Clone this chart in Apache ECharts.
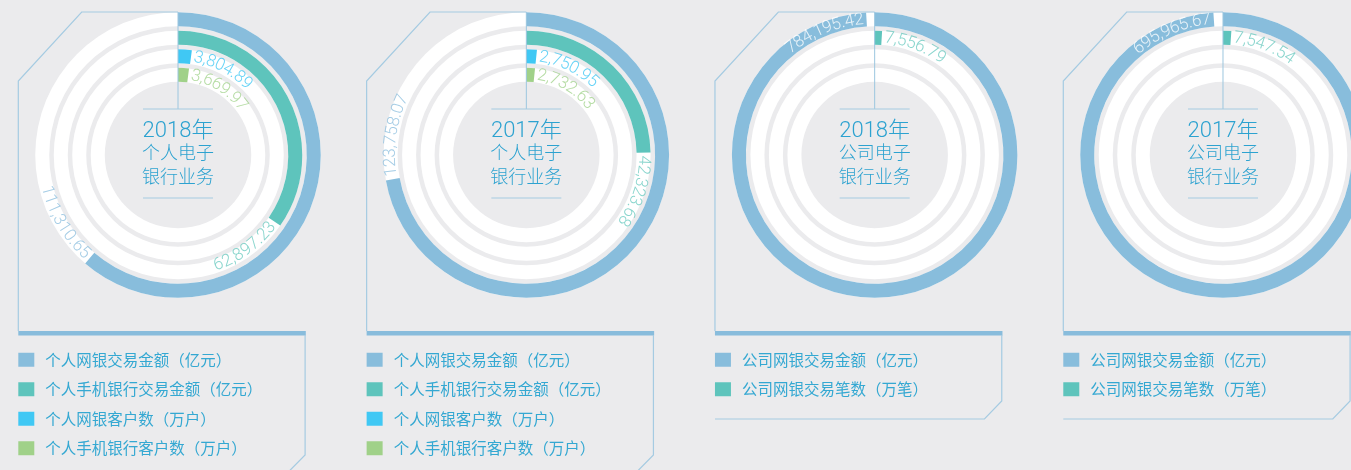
<!DOCTYPE html>
<html><head><meta charset="utf-8">
<script src="https://cdn.jsdelivr.net/npm/echarts@6/dist/echarts.min.js"></script>
<style>html,body{margin:0;padding:0;background:#EBEBED}#c{width:1351px;height:470px}</style>
</head><body><div id="c"></div>
<script>
// ---------- data ----------
const years = ['2018年', '2017年', '2018年', '2017年'];
const titles = ['个人电子', '个人电子', '公司电子', '公司电子'];
const subtitle = '银行业务';
const personalNames = ['个人网银交易金额（亿元）', '个人手机银行交易金额（亿元）', '个人网银客户数（万户）', '个人手机银行客户数（万户）'];
const corporateNames = ['公司网银交易金额（亿元）', '公司网银交易笔数（万笔）'];
const personal2018 = [111310.65, 62897.23, 3804.89, 3669.97];
const personal2017 = [123758.07, 42323.68, 2750.95, 2732.63];
const corporate2018 = [784195.42, 7556.79];
const corporate2017 = [695965.67, 7547.54];

// ---------- styles / layout ----------
const BG = '#EBEBED';
const barColors = ['#88BDDC', '#5EC4BC', '#40C8F4', '#A0D189'];
const labelColors = ['#8DBFDF', '#6CCAC1', '#40C8F4', '#A3D38D'];
const textBlue = '#2CA2D0';
const legendBlue = '#34A8D2';
const frameColor = '#A5CBE2';
const thickColor = '#88BCDC';
const panelStep = 348.33;
const frameLeft0 = 18.3;
const centerOffset = 159.7;
const CY = 155, R0 = 71, R1 = 145, RINGS = 4, BAR_W = 14;
const BAND = (R1 - R0) / RINGS;
const LABEL_FONT = 'Roboto, "Liberation Sans", sans-serif';
const LABEL_SIZE = 17;

const panels = [
  { values: personal2018, names: personalNames },
  { values: personal2017, names: personalNames },
  { values: corporate2018, names: corporateNames },
  { values: corporate2017, names: corporateNames }
];

const ctx = document.createElement('canvas').getContext('2d');
ctx.font = '300 ' + LABEL_SIZE + 'px ' + LABEL_FONT;
function fmt(v) { return v.toLocaleString('en-US', { minimumFractionDigits: 2, maximumFractionDigits: 2 }); }

const polar = [], angleAxis = [], radiusAxis = [], series = [], legend = [], graphic = [];

panels.forEach((p, i) => {
  const L = frameLeft0 + i * panelStep;
  const cx = L + centerOffset;
  const total = p.values.reduce((a, b) => a + b, 0);
  polar.push({ center: [cx, CY], radius: [R0, R1] });
  angleAxis.push({ polarIndex: i, type: 'value', min: 0, max: total, startAngle: 90, clockwise: true, show: false });
  radiusAxis.push({ polarIndex: i, type: 'category', data: ['r4', 'r3', 'r2', 'r1'], show: false });

  p.values.forEach((v, k) => {
    const cat = RINGS - 1 - k;
    const data = ['-', '-', '-', '-'];
    data[cat] = v;
    series.push({
      type: 'bar', name: p.names[k], coordinateSystem: 'polar', polarIndex: i,
      stack: 'panel' + i,
      data: data, barWidth: BAR_W, silent: true,
      itemStyle: { color: barColors[k] },
      showBackground: k === 0, backgroundStyle: { color: '#FFFFFF' }
    });
  });

  // value labels, laid out character by character along the ring
  const pts = [];
  p.values.forEach((v, k) => {
    const cat = RINGS - 1 - k;
    const rMid = R0 + (cat + 0.5) * BAND;
    const endDeg = v / total * 360;
    const mode = endDeg > 330 ? 'inside' : (endDeg > 90 && endDeg < 250 ? 'flip' : 'normal');
    const chars = fmt(v).split('');
    const w = chars.map(c => ctx.measureText(c).width);
    const gap = 3;
    const color = mode === 'inside' ? '#FFFFFF' : labelColors[k];
    chars.forEach((ch, j) => {
      let s;
      if (mode === 'normal') {
        s = gap + w.slice(0, j).reduce((a, b) => a + b, 0) + w[j] / 2;
      } else {
        s = gap + w.slice(j + 1).reduce((a, b) => a + b, 0) + w[j] / 2;
        if (mode === 'inside') s = -s;
      }
      const ang = endDeg + s / rMid * 180 / Math.PI;
      const rot = mode === 'flip' ? 180 - ang : -ang;
      pts.push({
        value: [cat, ang / 360 * total],
        label: { show: true, formatter: ch, rotate: rot, color: color }
      });
    });
  });
  series.push({
    type: 'scatter', name: '_labels' + i, coordinateSystem: 'polar', polarIndex: i,
    symbolSize: 2, itemStyle: { color: 'rgba(0,0,0,0)' }, silent: true, z: 5,
    label: { show: true, position: 'inside', align: 'center', verticalAlign: 'middle',
      fontSize: LABEL_SIZE, fontFamily: LABEL_FONT, fontWeight: 300 },
    data: pts
  });

  legend.push({
    left: L, top: 352, padding: 0, orient: 'vertical', icon: 'rect', itemWidth: 16, itemHeight: 14, itemGap: 14,
    selectedMode: false, data: p.names,
    textStyle: { color: legendBlue, fontSize: 15.5, fontFamily: '"Noto Sans CJK SC", sans-serif', padding: [0, 0, 0, 6] }
  });

  const line = (points, lw, color) => ({ type: 'polyline', z: 100, silent: true, shape: { points: points }, style: { stroke: color || frameColor, lineWidth: lw || 1.2, fill: null } });
  graphic.push(line([[cx, 12], [L + 63.4, 12], [L, 81], [L, 331]]));
  graphic.push({ type: 'rect', z: 100, silent: true, shape: { x: L, y: 331, width: 287.5, height: 4.5 }, style: { fill: thickColor } });
  if (p.names.length > 2) {
    graphic.push(line([[L + 286.8, 335], [L + 286.8, 455], [L + 270, 472], [L, 472]]));
  } else {
    graphic.push(line([[L + 286.8, 335], [L + 286.8, 401], [L + 269.5, 419], [L, 419]]));
  }
  graphic.push(line([[cx, 12], [cx, 109]], 1, '#9CC6DF'));
  graphic.push(line([[cx - 35, 109], [cx + 35, 109]], 1.2, '#A5CBE2'));
  graphic.push(line([[cx - 35, 198], [cx + 35, 198]], 1.2, '#A5CBE2'));
  const txt = (t, y, size, weight) => ({ type: 'text', z: 100, silent: true, x: cx, y: y,
    style: { text: t, fill: textBlue, font: (weight || 'normal') + ' ' + size + 'px Roboto, "Noto Sans CJK SC", sans-serif', textAlign: 'center', textVerticalAlign: 'middle' } });
  graphic.push(txt(years[i], 131, 22, 300));
  graphic.push(txt(titles[i], 154, 18, 300));
  graphic.push(txt(subtitle, 178, 18, 300));
});

const chart = echarts.init(document.getElementById('c'), null, { renderer: 'canvas' });
chart.setOption({
  backgroundColor: BG,
  animation: false,
  polar: polar, angleAxis: angleAxis, radiusAxis: radiusAxis,
  legend: legend, series: series, graphic: graphic
});
</script></body></html>
